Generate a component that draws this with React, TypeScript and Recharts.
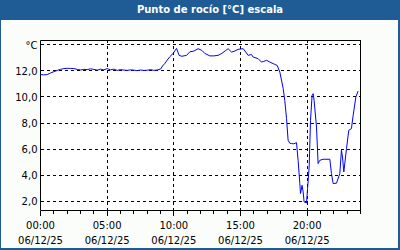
import React from 'react';
import { LineChart, Line, XAxis, YAxis, CartesianGrid, ReferenceLine, ReferenceArea } from 'recharts';

const title = 'Punto de rocío [°C] escala';
const dateLabel = '06/12/25';

const hours = [
  0, 0.25, 0.5, 0.75, 1, 1.25, 1.5, 1.75, 2, 2.25, 2.5, 2.75, 3, 3.25, 3.5, 3.75,
  4, 4.25, 4.5, 4.75, 5, 5.25, 5.5, 5.75, 6, 6.25, 6.5, 6.75, 7, 7.25, 7.5, 7.75,
  8, 8.25, 8.5, 8.75, 9, 9.2, 9.32, 9.5, 9.7, 9.95, 10.2, 10.4, 10.6, 10.95, 11.2, 11.5,
  11.82, 12.1, 12.32, 12.7, 13.0, 13.32, 13.6, 13.9, 14.07, 14.33, 14.57, 14.82, 15.2, 15.4,
  15.57, 15.82, 15.95, 16.32, 16.57, 16.75, 16.95, 17.2, 17.57, 17.75, 17.95, 18.2, 18.32,
  18.45, 18.57, 18.7, 18.82, 19.0, 19.2, 19.32, 19.45, 19.5, 19.62, 19.7, 19.77, 19.95,
  20.03, 20.15, 20.25, 20.37, 20.45, 20.52, 20.7, 20.82, 20.95, 21.2, 21.7, 21.82, 21.95,
  22.2, 22.45, 22.57, 22.65, 22.75, 22.95, 23.12, 23.32, 23.45, 23.65, 23.82,
];

const dewPoint = [
  11.7, 11.68, 11.7, 11.82, 11.92, 12.02, 12.1, 12.16, 12.18, 12.17, 12.16, 12.1, 12.05, 12.1, 12.08, 12.14,
  12.1, 12.04, 12.12, 12.06, 12.16, 12.06, 12.12, 12.02, 12.08, 12.05, 12.02, 12.06, 12.04, 12.0, 12.05, 12.02,
  12.03, 12.08, 12.02, 12.05, 12.12, 12.43, 12.53, 12.8, 13.07, 13.32, 13.7, 13.17, 13.1, 13.17, 13.44, 13.5,
  13.68, 13.55, 13.32, 13.13, 13.13, 13.17, 13.32, 13.55, 13.68, 13.42, 13.5, 13.63, 13.68, 13.42,
  13.17, 13.24, 13.04, 12.92, 12.66, 12.71, 12.79, 12.66, 12.48, 12.4, 11.89, 10.65, 9.73,
  8.36, 6.68, 6.45, 6.43, 6.41, 6.5, 5.15, 3.37, 2.61, 3.24, 2.73, 1.97, 1.89,
  2.99, 4.64, 8.21, 10.11, 10.24, 9.73, 7.69, 4.9, 5.15, 5.23, 5.23, 4.14, 3.37,
  3.4, 4.14, 5.92, 5.4, 4.26, 6.05, 7.44, 7.57, 8.59, 9.98, 10.44,
];

const yTicks = [2, 4, 6, 8, 10, 12, 14];
const xTicks = [0, 1, 2, 3, 4, 5, 6, 7, 8, 9, 10, 11, 12, 13, 14, 15, 16, 17, 18, 19, 20, 21, 22, 23, 24];
const xGrid = [5, 10, 15, 20];
const yMin = 1.312;
const yMax = 14.306;

const data = hours.map((h, i) => ({ h, v: dewPoint[i] }));

const FONT = '"DejaVu Sans", Verdana, sans-serif';

const XTick = (props: any) => {
  const { x, y, payload } = props;
  const v = payload.value as number;
  const major = v % 5 === 0;
  return (
    <g>
      <line x1={x} x2={x} y1={y} y2={y + (major ? 5 : 3)} stroke="#000" shapeRendering="crispEdges" />
      {major && v < 24 && (
        <text textAnchor="middle" fontSize={10} fontFamily={FONT} fill="#000">
          <tspan x={x} y={y + 18.5}>{String(v).padStart(2, '0') + ':00'}</tspan>
          <tspan x={x} y={y + 33.5}>{dateLabel}</tspan>
        </text>
      )}
    </g>
  );
};

const YTick = (props: any) => {
  const { x, y, payload } = props;
  const v = payload.value as number;
  const label = v === 14 ? '°C' : v.toFixed(1).replace('.', ',');
  return (
    <text x={x} y={y + 4} textAnchor="end" fontSize={10} fontFamily={FONT} fill="#000">
      {label}
    </text>
  );
};

export default function App() {
  return (
    <div style={{ position: 'absolute', left: 0, top: 0, width: 400, height: 250, background: '#1f5c96' }}>
      <style>{'.recharts-cartesian-grid line, .recharts-cartesian-grid rect, .recharts-reference-line line, .recharts-reference-area rect { shape-rendering: crispEdges; }'}</style>
      <div style={{ position: 'absolute', left: 1, top: 20, width: 397, height: 228, background: '#fbfdfb' }} />
      <div
        style={{
          position: 'absolute', left: 0, top: 0, width: 420, height: 20, color: '#fff',
          fontFamily: FONT, fontWeight: 'bold', fontSize: 10, lineHeight: '20px', textAlign: 'center',
        }}
      >
        {title}
      </div>
      <div style={{ position: 'absolute', left: 0, top: 0 }}>
        <LineChart width={400} height={250} data={data} margin={{ top: 40.5, right: 39.5, bottom: 0, left: 0 }}>
          <CartesianGrid vertical={false} stroke="#000" strokeDasharray="3 3" fill="#ffffff" fillOpacity={1} />
          {xGrid.map((g) => (
            <ReferenceLine key={g} x={g} stroke="#000" strokeDasharray="3 3" />
          ))}
          <XAxis
            dataKey="h"
            type="number"
            domain={[0, 24]}
            ticks={xTicks}
            interval={0}
            height={39.5}
            tickSize={0}
            tickMargin={0}
            tickLine={false}
            axisLine={false}
            tick={XTick}
          />
          <YAxis
            type="number"
            domain={[yMin, yMax]}
            allowDataOverflow
            ticks={yTicks}
            interval={0}
            width={40.5}
            tickSize={1}
            tickMargin={2}
            tickLine={false}
            axisLine={false}
            tick={YTick}
          />
          <Line dataKey="v" type="linear" stroke="#0000ff" strokeWidth={1} dot={false} isAnimationActive={false} />
          <ReferenceArea x1={0} x2={24} y1={yMin} y2={yMax} fill="none" stroke="#000" strokeWidth={1} ifOverflow="visible" />
        </LineChart>
      </div>
    </div>
  );
}
